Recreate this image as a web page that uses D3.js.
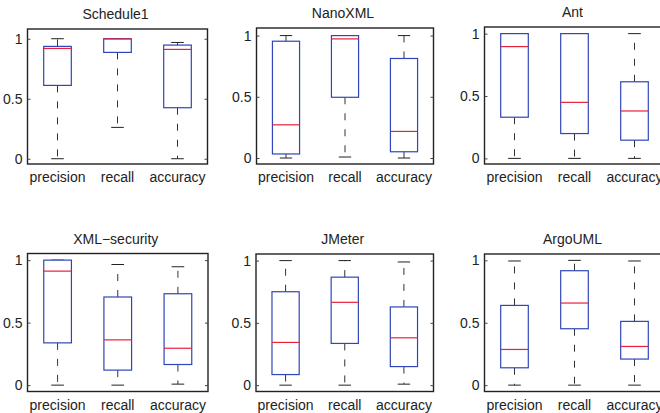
<!DOCTYPE html>
<html>
<head>
<meta charset="utf-8">
<script src="https://cdn.jsdelivr.net/npm/d3@7"></script>
<style>
  body { margin: 0; background: #fff; }
  svg { display: block; }
  text { font-family: "Liberation Sans", Arial, sans-serif; fill: #222; }
</style>
</head>
<body>
<div id="chart"></div>
<script>
// measures and projects
var categories = ["precision", "recall", "accuracy"];
var projects = ["Schedule1", "NanoXML", "Ant", "XML\u2212security", "JMeter", "ArgoUML"];
var yTicks = [0, 0.5, 1];

// box stats per project, one row per category: [lowWhisker, q1, median, q3, highWhisker]
var schedule1 = [[0, 0.611, 0.919, 0.936, 1.0], [0.261, 0.886, 0.998, 1.0, 1.0], [0, 0.425, 0.911, 0.947, 0.969]];
var nanoxml = [[0, 0.033, 0.271, 0.954, 1.0], [0.008, 0.496, 0.973, 1.0, 1.0], [0, 0.051, 0.217, 0.813, 1.0]];
var ant = [[0, 0.330, 0.896, 1.0, 1.0], [0, 0.199, 0.449, 1.0, 1.0], [0, 0.146, 0.380, 0.614, 1.0]];
var xmlsecurity = [[0, 0.338, 0.912, 1.0, 1.0], [0, 0.120, 0.362, 0.705, 0.965], [0.008, 0.165, 0.295, 0.731, 0.947]];
var jmeter = [[0, 0.085, 0.343, 0.750, 1.0], [0, 0.335, 0.665, 0.867, 1.0], [0.008, 0.149, 0.380, 0.628, 0.989]];
var argouml = [[0, 0.139, 0.286, 0.639, 0.995], [0, 0.452, 0.658, 0.917, 1.0], [0, 0.209, 0.310, 0.511, 0.995]];
var stats = [schedule1, nanoxml, ant, xmlsecurity, jmeter, argouml];

// panel frames (x0, x1, y0, y1) and y limits
var frames = [
  {x0: 27.5, x1: 207.5, y0: 29, y1: 164, lo: -0.044, hi: 1.081},
  {x0: 256.5, x1: 433.5, y0: 28, y1: 164, lo: -0.049, hi: 1.062},
  {x0: 484.5, x1: 664.5, y0: 27, y1: 164, lo: -0.045, hi: 1.053},
  {x0: 27.5, x1: 208, y0: 253.5, y1: 391.5, lo: -0.051, hi: 1.053},
  {x0: 256, x1: 433.5, y0: 254, y1: 391.5, lo: -0.051, hi: 1.053},
  {x0: 484.5, x1: 664.5, y0: 254, y1: 391.5, lo: -0.051, hi: 1.051}
];

var width = 660, height = 413;
var svg = d3.select("#chart").append("svg")
    .attr("width", width).attr("height", height);

var boxColor = "#2f46b8", medColor = "#e8203a";

frames.forEach(function(f, i) {
  var g = svg.append("g");
  var x = d3.scaleBand().domain(categories).range([f.x0, f.x1]).padding(0);
  var y = d3.scaleLinear().domain([f.lo, f.hi]).range([f.y1, f.y0]);
  var bw = x.bandwidth() * 0.46;
  var cw = x.bandwidth() * 0.21;

  var rows = categories.map(function(c, j) {
    var s = stats[i][j];
    return {cat: c, lo: s[0], q1: s[1], med: s[2], q3: s[3], hi: s[4]};
  });

  var b = g.selectAll(".bx").data(rows).enter().append("g")
      .attr("transform", function(d) { return "translate(" + (x(d.cat) + x.bandwidth() / 2) + ",0)"; });

  // whiskers
  b.append("line").attr("x1", 0).attr("x2", 0)
      .attr("y1", function(d) { return y(d.q3); }).attr("y2", function(d) { return y(d.hi); })
      .attr("stroke", "#333").attr("stroke-dasharray", "7,9");
  b.append("line").attr("x1", 0).attr("x2", 0)
      .attr("y1", function(d) { return y(d.q1); }).attr("y2", function(d) { return y(d.lo); })
      .attr("stroke", "#333").attr("stroke-dasharray", "7,9");
  // caps
  b.append("line").attr("x1", -cw / 2).attr("x2", cw / 2)
      .attr("y1", function(d) { return y(d.hi); }).attr("y2", function(d) { return y(d.hi); })
      .attr("stroke", "#222");
  b.append("line").attr("x1", -cw / 2).attr("x2", cw / 2)
      .attr("y1", function(d) { return y(d.lo); }).attr("y2", function(d) { return y(d.lo); })
      .attr("stroke", "#222");
  // box
  b.append("rect").attr("x", -bw / 2).attr("width", bw)
      .attr("y", function(d) { return y(d.q3); })
      .attr("height", function(d) { return y(d.q1) - y(d.q3); })
      .attr("fill", "#fff").attr("stroke", boxColor).attr("stroke-width", 1.2);
  // median
  b.append("line").attr("x1", -bw / 2).attr("x2", bw / 2)
      .attr("y1", function(d) { return y(d.med); }).attr("y2", function(d) { return y(d.med); })
      .attr("stroke", medColor).attr("stroke-width", 1.2);

  // axes frame
  g.append("rect").attr("x", f.x0).attr("y", f.y0)
      .attr("width", f.x1 - f.x0).attr("height", f.y1 - f.y0)
      .attr("fill", "none").attr("stroke", "#222").attr("stroke-width", 1.4);

  var yl = d3.axisLeft(y).tickValues(yTicks).tickSize(-3).tickPadding(5)
      .tickFormat(function(v) { return v === 0.5 ? "0.5" : d3.format("d")(v); });
  var ya = g.append("g").attr("transform", "translate(" + f.x0 + ",0)").call(yl);
  ya.select(".domain").remove();
  ya.selectAll("line").attr("stroke", "#444");
  ya.selectAll("text").style("font-size", "14px")
      .style("font-family", "'Liberation Sans', Arial, sans-serif").attr("fill", "#222");

  var yr = d3.axisRight(y).tickValues(yTicks).tickSize(-3).tickFormat("");
  var yra = g.append("g").attr("transform", "translate(" + f.x1 + ",0)").call(yr);
  yra.select(".domain").remove();
  yra.selectAll("line").attr("stroke", "#444");

  // category labels
  g.selectAll(".xl").data(categories).enter().append("text")
      .attr("x", function(c) { return x(c) + x.bandwidth() / 2; })
      .attr("y", f.y1 + 18)
      .attr("text-anchor", "middle")
      .style("font-size", "14px")
      .text(function(c) { return c; });

  // title
  g.append("text")
      .attr("x", (f.x0 + f.x1) / 2 - 2)
      .attr("y", f.y0 - 10)
      .attr("text-anchor", "middle")
      .style("font-size", "14px")
      .text(projects[i]);
});
</script>
</body>
</html>
